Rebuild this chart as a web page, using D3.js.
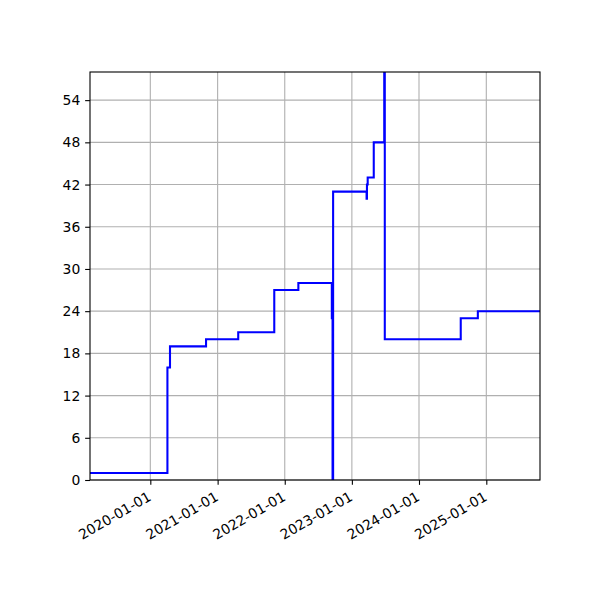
<!DOCTYPE html>
<meta charset="utf-8">
<script src="https://d3js.org/d3.v7.min.js"></script>
<style>
  body { margin: 0; background: #fff; }
  text { font-family: "DejaVu Sans", sans-serif; font-size: 13.9px; fill: #000; }
</style>
<div id="chart"></div>
<script>

// step series (value holds from its date onward)
var dates = ["2019-02-07", "2020-04-03", "2020-04-17", "2020-10-30", "2021-04-23",
             "2021-11-05", "2022-03-16", "2022-09-14", "2022-09-18", "2022-09-21",
             "2023-03-22", "2023-03-24", "2023-03-28", "2023-04-30", "2023-06-26",
             "2023-06-29", "2024-08-15", "2024-11-16", "2025-10-20"];
var values = [1, 16, 19, 20, 21,
              27, 28, 23, 0, 41,
              40, 42, 43, 48, 65,
              20, 23, 24, 24];
var xTicks = ["2020-01-01", "2021-01-01", "2022-01-01", "2023-01-01", "2024-01-01", "2025-01-01"];
var yTicks = [0, 6, 12, 18, 24, 30, 36, 42, 48, 54];
var yMax = 58;

var parse = d3.timeParse("%Y-%m-%d");
var data = dates.map(function(d, i) { return {date: parse(d), value: values[i]}; });

// matplotlib-like figure geometry
var W = 600, H = 600;
var margin = {top: 72, right: 60, bottom: 120, left: 90},
    width = W - margin.left - margin.right,
    height = H - margin.top - margin.bottom;
var tickLen = 4.86;

var svg = d3.select("#chart")
  .append("svg")
    .attr("width", W)
    .attr("height", H)
  .append("g")
    .attr("transform", "translate(" + margin.left + "," + margin.top + ")");

var x = d3.scaleTime()
  .domain(d3.extent(data, function(d) { return d.date; }))
  .range([0, width]);
var y = d3.scaleLinear()
  .domain([0, yMax])
  .range([height, 0]);

// grid
svg.append("g")
  .selectAll("line.vgrid")
  .data(xTicks)
  .enter().append("line")
    .attr("x1", function(d) { return x(parse(d)); })
    .attr("x2", function(d) { return x(parse(d)); })
    .attr("y1", 0)
    .attr("y2", height)
    .attr("stroke", "#b0b0b0")
    .attr("stroke-width", 1.1);
svg.append("g")
  .selectAll("line.hgrid")
  .data(yTicks)
  .enter().append("line")
    .attr("x1", 0)
    .attr("x2", width)
    .attr("y1", function(d) { return y(d); })
    .attr("y2", function(d) { return y(d); })
    .attr("stroke", "#b0b0b0")
    .attr("stroke-width", 1.1);

// the line, clipped to the axes box
svg.append("clipPath")
  .attr("id", "clip")
  .append("rect")
    .attr("width", width)
    .attr("height", height);

svg.append("path")
  .datum(data)
  .attr("clip-path", "url(#clip)")
  .attr("d", d3.line()
    .curve(d3.curveStepAfter)
    .x(function(d) { return x(d.date); })
    .y(function(d) { return y(d.value); })
  )
  .attr("fill", "none")
  .attr("stroke", "#0000ff")
  .attr("stroke-width", 2.08);

// axes
var xAxis = d3.axisBottom(x)
  .tickValues(xTicks.map(parse))
  .tickSize(tickLen)
  .tickPadding(4.86)
  .tickFormat(d3.timeFormat("%Y-%m-%d"));
var gx = svg.append("g")
  .attr("transform", "translate(0," + height + ")")
  .call(xAxis);
gx.select(".domain").remove();
gx.selectAll("line").attr("stroke", "#000").attr("stroke-width", 1.1);
gx.selectAll("text")
  .attr("x", 0).attr("y", 0).attr("dy", "0.76em")
  .attr("text-anchor", "end")
  .attr("transform", "translate(-4," + (tickLen + 5.5) + ") rotate(-30)");

var yAxis = d3.axisLeft(y)
  .tickValues(yTicks)
  .tickSize(tickLen)
  .tickPadding(4.86);
var gy = svg.append("g").call(yAxis);
gy.select(".domain").remove();
gy.selectAll("line").attr("stroke", "#000").attr("stroke-width", 1.1);

svg.selectAll(".tick text")
  .style("font-family", "'DejaVu Sans', sans-serif")
  .style("font-size", "13.9px")
  .attr("fill", "#000");

// frame
svg.append("rect")
  .attr("width", width)
  .attr("height", height)
  .attr("fill", "none")
  .attr("stroke", "#000")
  .attr("stroke-width", 1.1);

</script>
